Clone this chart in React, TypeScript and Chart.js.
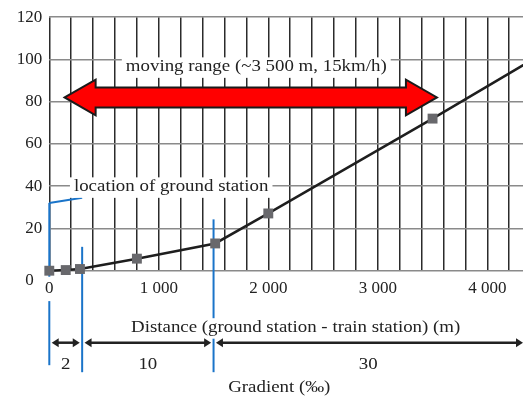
import React, { useEffect, useRef } from 'react';
import { Chart, registerables } from 'chart.js';

Chart.register(...registerables);

// Track profile: distance from the ground station (m) and height (m)
const distances = [0, 150, 280, 800, 1515, 2000, 3500, 4400];
const elevations = [0, 0.3, 0.8, 5.7, 12.9, 27.1, 72.0, 99.5];
const markerShown = [true, true, true, true, true, true, true, false];

// Axis settings
const xMin = 0;
const xMax = 4326;
const xStep = 200;
const xTickLabels: Record<number, string> = { 0: '0', 1000: '1 000', 2000: '2 000', 3000: '3 000', 4000: '4 000' };
const yMin = 0;
const yMax = 120;
const yStep = 20;

// Gradient sections (start distance in m) and their gradient in ‰
const sectionStarts = [0, 300, 1500];
const sectionGradients = ['2', '10', '30'];

// Moving range of the train (m) and the height at which the arrow is drawn
const movingRangeFrom = 140;
const movingRangeTo = 3540;
const movingRangeLevel = 82;

const TEXT_TITLE_X = 'Distance (ground station - train station) (m)';
const TEXT_TITLE_GRADIENT = 'Gradient (‰)';
const TEXT_MOVING = 'moving range (~3 500 m, 15km/h)';
const TEXT_STATION = 'location of ground station';

const SERIF = '"Liberation Serif", "Times New Roman", serif';
const INK = '#222222';
const BLUE = '#1a74c9';
const STRETCH = 1.18;

function stretchedText(
  ctx: CanvasRenderingContext2D,
  text: string,
  x: number,
  baseline: number,
  align: 'left' | 'center',
  background: boolean
) {
  ctx.save();
  ctx.font = `16px ${SERIF}`;
  ctx.textBaseline = 'alphabetic';
  ctx.textAlign = 'left';
  const w = ctx.measureText(text).width * STRETCH;
  const left = align === 'center' ? x - w / 2 : x;
  if (background) {
    ctx.fillStyle = '#ffffff';
    ctx.fillRect(left - 4, baseline - 13.5, w + 8, 20.5);
  }
  ctx.translate(left, baseline);
  ctx.scale(STRETCH, 1);
  ctx.fillStyle = INK;
  ctx.fillText(text, 0, 0);
  ctx.restore();
}

function doubleArrow(ctx: CanvasRenderingContext2D, x1: number, x2: number, y: number) {
  const hl = 7;
  const hw = 4.5;
  ctx.save();
  ctx.strokeStyle = INK;
  ctx.fillStyle = INK;
  ctx.lineWidth = 2.5;
  ctx.beginPath();
  ctx.moveTo(x1 + hl - 1, y);
  ctx.lineTo(x2 - hl + 1, y);
  ctx.stroke();
  ctx.beginPath();
  ctx.moveTo(x1, y);
  ctx.lineTo(x1 + hl, y - hw);
  ctx.lineTo(x1 + hl, y + hw);
  ctx.closePath();
  ctx.fill();
  ctx.beginPath();
  ctx.moveTo(x2, y);
  ctx.lineTo(x2 - hl, y - hw);
  ctx.lineTo(x2 - hl, y + hw);
  ctx.closePath();
  ctx.fill();
  ctx.restore();
}

const annotations = {
  id: 'profileAnnotations',
  beforeDatasetsDraw(chart: any) {
    const { ctx, chartArea } = chart;
    const x = chart.scales.x;
    const y = chart.scales.y;
    const bottom = chartArea.bottom;

    // Section boundary markers (blue)
    const tops = [y.getPixelForValue(32.1), y.getPixelForValue(11.3), y.getPixelForValue(24.3)];
    const ends = [bottom + 94.5, bottom + 101.5, bottom + 101.5];
    ctx.save();
    ctx.strokeStyle = BLUE;
    ctx.lineWidth = 2;
    sectionStarts.forEach((d, i) => {
      const px = x.getPixelForValue(d);
      ctx.beginPath();
      ctx.moveTo(px, tops[i]);
      ctx.lineTo(px, ends[i]);
      ctx.stroke();
    });
    // leader towards the ground station label
    ctx.beginPath();
    ctx.moveTo(x.getPixelForValue(0), y.getPixelForValue(32.1));
    ctx.lineTo(x.getPixelForValue(300), y.getPixelForValue(34.5));
    ctx.stroke();
    ctx.restore();

    // Labels inside the plot
    stretchedText(ctx, TEXT_MOVING, x.getPixelForValue(1890), y.getPixelForValue(94.6), 'center', true);
    stretchedText(ctx, TEXT_STATION, x.getPixelForValue(225), y.getPixelForValue(37.8), 'left', true);

    // Moving range arrow
    const xl = x.getPixelForValue(movingRangeFrom);
    const xr = x.getPixelForValue(movingRangeTo);
    const yc = y.getPixelForValue(movingRangeLevel);
    const hl = 31;
    const hh = 17.8;
    const sh = 10;
    ctx.save();
    ctx.beginPath();
    ctx.moveTo(xl, yc);
    ctx.lineTo(xl + hl, yc - hh);
    ctx.lineTo(xl + hl, yc - sh);
    ctx.lineTo(xr - hl, yc - sh);
    ctx.lineTo(xr - hl, yc - hh);
    ctx.lineTo(xr, yc);
    ctx.lineTo(xr - hl, yc + hh);
    ctx.lineTo(xr - hl, yc + sh);
    ctx.lineTo(xl + hl, yc + sh);
    ctx.lineTo(xl + hl, yc + hh);
    ctx.closePath();
    ctx.fillStyle = '#ff0000';
    ctx.fill();
    ctx.lineWidth = 2;
    ctx.lineJoin = 'miter';
    ctx.strokeStyle = '#1a1a1a';
    ctx.stroke();
    ctx.restore();
  },
  afterDraw(chart: any) {
    const { ctx, chartArea } = chart;
    const x = chart.scales.x;
    const bottom = chartArea.bottom;

    stretchedText(ctx, TEXT_TITLE_X, x.getPixelForValue(2250), bottom + 61, 'center', true);

    const bounds = sectionStarts.map((d) => x.getPixelForValue(d));
    bounds.push(chartArea.right);
    const arrowY = bottom + 72;
    for (let i = 0; i < sectionStarts.length; i++) {
      const a = bounds[i];
      const b = bounds[i + 1];
      const last = i === sectionStarts.length - 1;
      doubleArrow(ctx, a + 2.4, last ? b : b - 2.4, arrowY);
      stretchedText(ctx, sectionGradients[i], (a + b) / 2, bottom + 98, 'center', false);
    }

    stretchedText(ctx, TEXT_TITLE_GRADIENT, x.getPixelForValue(2100), bottom + 121, 'center', false);
  },
};

export default function App() {
  const canvasRef = useRef<HTMLCanvasElement | null>(null);

  useEffect(() => {
    const canvas = canvasRef.current;
    if (!canvas) return;
    const chart = new Chart(canvas, {
      type: 'line',
      data: {
        datasets: [
          {
            data: distances.map((d, i) => ({ x: d, y: elevations[i] })),
            borderColor: '#1e1e1e',
            borderWidth: 2.5,
            tension: 0,
            clip: false,
            pointStyle: 'rect',
            pointRadius: (c: any) => (markerShown[c.dataIndex] ? 7 : 0),
            pointBackgroundColor: '#68686c',
            pointBorderWidth: 0,
            pointHoverRadius: 0,
          },
        ],
      },
      options: {
        animation: false,
        responsive: false,
        events: [],
        layout: { autoPadding: false, padding: { top: 16.7, left: 0, right: 0, bottom: 0 } },
        plugins: { legend: { display: false }, tooltip: { enabled: false } },
        scales: {
          x: {
            type: 'linear',
            min: xMin,
            max: xMax,
            afterFit: (s: any) => {
              s.height = 130.3;
            },
            grid: { color: '#2b2b2b', lineWidth: 1.5, drawTicks: false },
            border: { display: false },
            ticks: {
              stepSize: xStep,
              includeBounds: false,
              autoSkip: false,
              maxRotation: 0,
              padding: 8,
              color: INK,
              font: { family: SERIF, size: 17 },
              callback: (v: any) => xTickLabels[Number(v)] ?? '',
              z: 1,
              showLabelBackdrop: (c: any) => c.tick && c.tick.value === 0,
              backdropColor: '#ffffff',
              backdropPadding: { top: 2, bottom: 2, left: 3, right: 3 },
            },
          },
          y: {
            type: 'linear',
            min: yMin,
            max: yMax,
            afterFit: (s: any) => {
              s.width = 49.3;
            },
            grid: { color: '#8a8a8a', lineWidth: 1.5, drawTicks: false },
            border: { display: false },
            ticks: {
              stepSize: yStep,
              autoSkip: false,
              padding: 7,
              color: INK,
              font: { family: SERIF, size: 17 },
              callback: (v: any) => (Number(v) === 0 ? ['', '0  '] : String(v)),
            },
          },
        },
      },
      plugins: [annotations],
    });
    return () => chart.destroy();
  }, []);

  return (
    <div style={{ position: 'absolute', left: 0, top: 0, width: 523, height: 401, background: '#ffffff' }}>
      <canvas ref={canvasRef} width={523} height={401} style={{ display: 'block' }} />
    </div>
  );
}
